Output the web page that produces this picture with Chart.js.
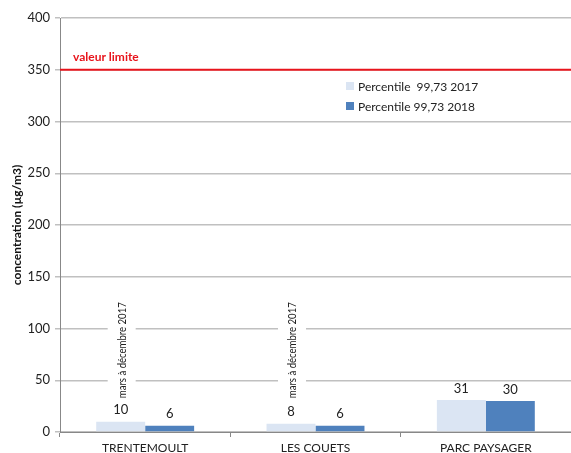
<!DOCTYPE html>
<html>
<head>
<meta charset="utf-8">
<script src="https://cdn.jsdelivr.net/npm/chart.js@4.4.1/dist/chart.umd.min.js"></script>
<style>
  html, body { margin: 0; padding: 0; background: #fff; }
  #wrap { width: 571px; height: 453px; }
</style>
</head>
<body>
<div id="wrap"><canvas id="c"></canvas></div>
<script>
// data
var stations = ["TRENTEMOULT", "LES COUETS", "PARC PAYSAGER"];
var p2017 = [10, 8, 31];
var p2018 = [6, 6, 30];
var seriesNames = ["Percentile  99,73 2017", "Percentile 99,73 2018"];
var yTicks = [0, 50, 100, 150, 200, 250, 300, 350, 400];
var limitValue = 350;
var limitLabel = "valeur limite";
var partialNote = "mars à décembre 2017";
var partialStations = [0, 1]; // stations measured only part of 2017

var FONT = "Lato, 'Open Sans', sans-serif";

// red limit line + label
var limitPlugin = {
  id: "limit",
  afterDatasetsDraw: function(chart) {
    var ctx = chart.ctx, area = chart.chartArea;
    var y = chart.scales.y.getPixelForValue(limitValue);
    ctx.save();
    ctx.strokeStyle = "#e8141c";
    ctx.lineWidth = 2;
    ctx.beginPath();
    ctx.moveTo(area.left, y);
    ctx.lineTo(area.right, y);
    ctx.stroke();
    ctx.fillStyle = "#e8141c";
    ctx.font = "bold 12px " + FONT;
    ctx.textBaseline = "alphabetic";
    ctx.fillText(limitLabel, area.left + 13, y - 9);
    ctx.restore();
  }
};

// value labels above bars + vertical note on partial year bars
var labelPlugin = {
  id: "labels",
  afterDatasetsDraw: function(chart) {
    var ctx = chart.ctx;
    ctx.save();
    ctx.fillStyle = "#222";
    ctx.font = "13px " + FONT;
    ctx.textAlign = "center";
    ctx.textBaseline = "bottom";
    chart.data.datasets.forEach(function(ds, di) {
      chart.getDatasetMeta(di).data.forEach(function(bar, i) {
        ctx.fillText(ds.data[i], bar.x, bar.y - 5);
      });
    });
    var meta = chart.getDatasetMeta(0);
    var yc = chart.scales.y.getPixelForValue(79);
    ctx.font = "12px " + FONT;
    partialStations.forEach(function(i) {
      var bar = meta.data[i];
      ctx.save();
      ctx.translate(bar.x + 1, yc);
      ctx.rotate(-Math.PI / 2);
      var w = ctx.measureText(partialNote).width;
      ctx.scale(96 / w, 1); // squeeze to the narrow face of the original
      ctx.fillStyle = "#fff";
      ctx.fillRect(-w / 2 - 5, -14, w + 10, 28);
      ctx.fillStyle = "#222";
      ctx.textBaseline = "middle";
      ctx.fillText(partialNote, 0, 0);
      ctx.restore();
    });
    ctx.restore();
  }
};

// legend inside the plot area
var legendPlugin = {
  id: "inlegend",
  afterDraw: function(chart) {
    var ctx = chart.ctx;
    ctx.save();
    ctx.font = "12px " + FONT;
    ctx.textBaseline = "middle";
    chart.data.datasets.forEach(function(ds, i) {
      var y = 86 + i * 20;
      ctx.fillStyle = ds.backgroundColor;
      ctx.fillRect(346, y - 4, 8, 8);
      ctx.fillStyle = "#222";
      ctx.fillText(ds.label, 358, y + 1);
    });
    ctx.restore();
  }
};

new Chart(document.getElementById("c"), {
  type: "bar",
  data: {
    labels: stations,
    datasets: [
      { label: seriesNames[0], data: p2017, backgroundColor: "#dbe5f3" },
      { label: seriesNames[1], data: p2018, backgroundColor: "#4f81bd" }
    ]
  },
  options: {
    responsive: true,
    maintainAspectRatio: false,
    animation: false,
    categoryPercentage: 0.575,
    barPercentage: 1,
    layout: { padding: { top: 18, right: 0, left: 0, bottom: 0 } },
    plugins: {
      legend: { display: false },
      tooltip: { enabled: false }
    },
    scales: {
      x: {
        grid: { drawOnChartArea: false, color: "#888", tickLength: 5, offset: true },
        border: { color: "#888" },
        ticks: { color: "#222", font: { family: FONT, size: 12 }, padding: 4 },
        afterFit: function(s) { s.height = 21; }
      },
      y: {
        min: 0,
        max: 400,
        afterBuildTicks: function(s) { s.ticks = yTicks.map(function(v) { return { value: v }; }); },
        grid: { color: "#c0c0c0", lineWidth: 1.5, tickLength: 5 },
        border: { color: "#888" },
        ticks: { color: "#222", font: { family: FONT, size: 13 }, padding: 5 },
        title: {
          display: true,
          text: "concentration (µg/m3)",
          color: "#111",
          font: { family: FONT, size: 12, weight: "bold" },
          padding: { top: 10, bottom: 0 }
        },
        afterFit: function(s) { s.width = 60; }
      }
    }
  },
  plugins: [limitPlugin, labelPlugin, legendPlugin]
});
</script>
</body>
</html>
